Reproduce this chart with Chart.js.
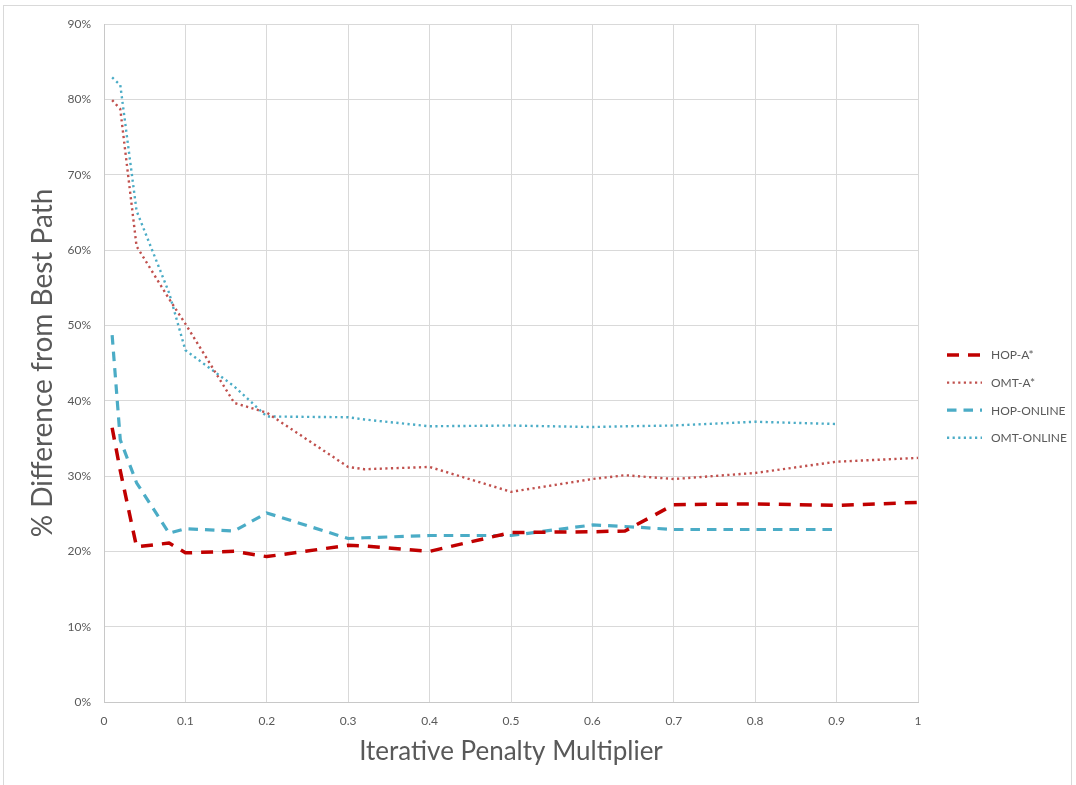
<!DOCTYPE html>
<html>
<head>
<meta charset="utf-8">
<script src="https://cdn.jsdelivr.net/npm/chart.js@4/dist/chart.umd.min.js"></script>
<style>
  html, body { margin: 0; padding: 0; background: #ffffff; }
  #wrap { position: relative; width: 1076px; height: 785px; }
</style>
</head>
<body>
<div id="wrap"><canvas id="c" width="1076" height="785"></canvas></div>
<script>
// ---- Data ----
const xValues    = [0.01, 0.02, 0.04, 0.08, 0.1, 0.16, 0.2, 0.3, 0.32, 0.4, 0.5, 0.6, 0.64, 0.7, 0.8, 0.9, 1.0];
const hopAstar   = [36.4, 30.7, 20.6, 21.1, 19.8, 20.0, 19.3, 20.8, 20.7, 20.0, 22.5, 22.6, 22.7, 26.2, 26.3, 26.1, 26.5];
const omtAstar   = [79.9, 78.7, 60.5, 53.5, 50.2, 39.7, 38.4, 31.2, 30.9, 31.2, 27.9, 29.6, 30.1, 29.6, 30.4, 31.9, 32.4];
const hopOnline  = [48.7, 34.8, 29.1, 22.4, 23.0, 22.7, 25.1, 21.7, 21.8, 22.1, 22.1, 23.5, 23.3, 22.9, 22.9, 22.9, null];
const omtOnline  = [82.9, 81.9, 65.2, 54.3, 46.7, 41.9, 37.9, 37.8, 37.5, 36.6, 36.7, 36.5, 36.6, 36.7, 37.2, 36.9, null];
const seriesNames = ['HOP-A*', 'OMT-A*', 'HOP-ONLINE', 'OMT-ONLINE'];
const yTickValues = [0, 10, 20, 30, 40, 50, 60, 70, 80, 90];
const xTickValues = [0, 0.1, 0.2, 0.3, 0.4, 0.5, 0.6, 0.7, 0.8, 0.9, 1];
const xTitle = 'Iterative Penalty Multiplier';
const yTitle = '% Difference from Best Path';

const toPoints = (ys) => xValues.map((x, i) => ({ x: x, y: ys[i] })).filter(p => p.y !== null);

const TEXT = '#595959';
const GRID = '#D9D9D9';
const FONT = 'Lato, "Liberation Sans", sans-serif';

const styles = [
  { color: '#C00000', width: 3.5, dash: [12, 9] },
  { color: '#C0504D', width: 2.4, dash: [2.2, 3.4] },
  { color: '#4BACC6', width: 3.2, dash: [9.5, 7] },
  { color: '#4BACC6', width: 2.4, dash: [2.2, 3.4] }
];
const seriesData = [hopAstar, omtAstar, hopOnline, omtOnline];

const datasets = seriesNames.map((name, i) => ({
  label: name,
  data: toPoints(seriesData[i]),
  borderColor: styles[i].color,
  backgroundColor: styles[i].color,
  borderWidth: styles[i].width,
  borderDash: styles[i].dash,
  borderCapStyle: 'butt',
  borderJoinStyle: 'round',
  pointRadius: 0,
  pointHoverRadius: 0,
  tension: 0,
  fill: false
}));

// Legend drawn at the right, like the reference
const rightLegend = {
  id: 'rightLegend',
  afterDraw(chart) {
    const ctx = chart.ctx;
    ctx.save();
    chart.data.datasets.forEach((ds, i) => {
      const y = 355 + i * 27.6;
      ctx.beginPath();
      ctx.setLineDash(ds.borderDash);
      ctx.lineWidth = ds.borderWidth;
      ctx.strokeStyle = ds.borderColor;
      ctx.lineCap = 'butt';
      ctx.moveTo(947, y);
      ctx.lineTo(982, y);
      ctx.stroke();
      ctx.setLineDash([]);
      ctx.fillStyle = TEXT;
      ctx.font = '12px ' + FONT;
      ctx.textBaseline = 'middle';
      ctx.textAlign = 'left';
      ctx.fillText(ds.label, 991, y + 0.5);
    });
    ctx.restore();
  }
};

const outerBorder = {
  id: 'outerBorder',
  afterDraw(chart) {
    const ctx = chart.ctx;
    ctx.save();
    ctx.strokeStyle = '#D9D9D9';
    ctx.lineWidth = 1;
    ctx.strokeRect(3.5, 5.5, 1068, 790);
    ctx.restore();
  }
};

new Chart(document.getElementById('c'), {
  type: 'line',
  data: { datasets: datasets },
  plugins: [rightLegend, outerBorder],
  options: {
    responsive: false,
    animation: false,
    devicePixelRatio: 1,
    layout: { padding: { left: 0, top: 24, right: 158, bottom: 0 } },
    plugins: { legend: { display: false }, tooltip: { enabled: false } },
    scales: {
      x: {
        type: 'linear',
        min: 0, max: 1,
        afterFit: (s) => { s.height = 83; },
        afterBuildTicks: (s) => { s.ticks = xTickValues.map(v => ({ value: v })); },
        ticks: {
          color: TEXT,
          font: { family: FONT, size: 12 },
          padding: 12,
          maxRotation: 0,
          callback: (v) => String(Number(v.toFixed(1)))
        },
        grid: { color: GRID, lineWidth: 1, drawTicks: false },
        border: { color: '#C8C8C8', width: 1 },
        title: {
          display: true,
          text: xTitle,
          color: TEXT,
          font: { family: FONT, size: 26, weight: 'normal' },
          padding: { top: 0, bottom: 18 }
        }
      },
      y: {
        type: 'linear',
        min: 0, max: 90,
        afterFit: (s) => { s.width = 104; },
        afterBuildTicks: (s) => { s.ticks = yTickValues.map(v => ({ value: v })); },
        ticks: {
          color: TEXT,
          font: { family: FONT, size: 12 },
          padding: 13,
          callback: (v) => v + '%'
        },
        grid: { color: GRID, lineWidth: 1, drawTicks: false },
        border: { color: '#C8C8C8', width: 1 },
        title: {
          display: true,
          text: yTitle,
          color: TEXT,
          font: { family: FONT, size: 28, weight: 'normal' },
          padding: { top: 26, bottom: 0 }
        }
      }
    }
  }
});
</script>
</body>
</html>
